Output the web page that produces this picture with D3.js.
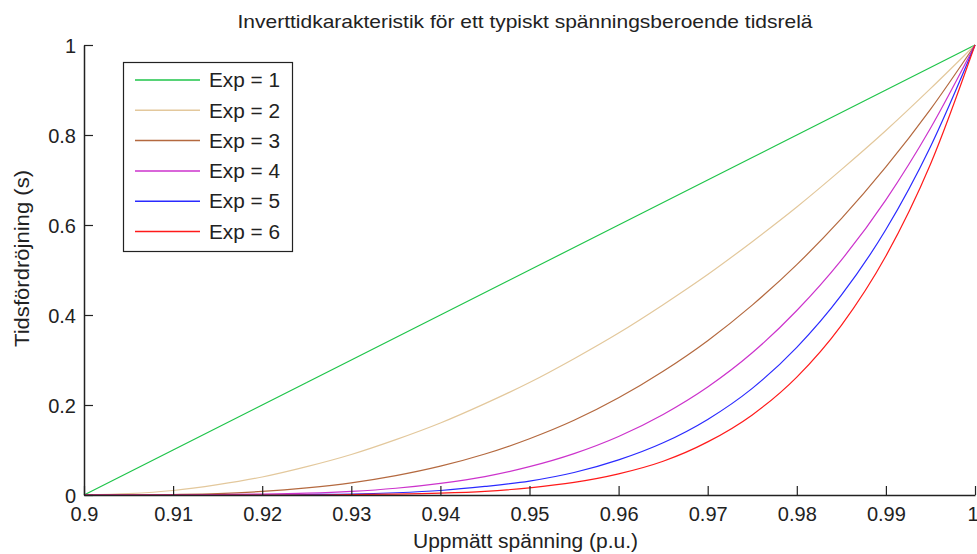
<!DOCTYPE html>
<html>
<head>
<meta charset="utf-8">
<script src="https://cdn.jsdelivr.net/npm/d3@7"></script>
<style>
  body { margin: 0; background: #fff; }
  svg text { font-family: "Liberation Sans", Arial, sans-serif; fill: #222; }
</style>
</head>
<body>
<svg id="canvas" width="977" height="554"></svg>
<script>
// x-values (p.u.), read at every 0.005
let spanning = [0.9, 0.905, 0.91, 0.915, 0.92, 0.925, 0.93, 0.935, 0.94, 0.945, 0.95,
                0.955, 0.96, 0.965, 0.97, 0.975, 0.98, 0.985, 0.99, 0.995, 1]

let exp1 = [0, 0.05, 0.1, 0.15, 0.2, 0.25, 0.3, 0.35, 0.4, 0.45, 0.5,
            0.55, 0.6, 0.65, 0.7, 0.75, 0.8, 0.85, 0.9, 0.95, 1]
let exp2 = [0, 0.003, 0.01, 0.023, 0.04, 0.063, 0.09, 0.123, 0.16, 0.203, 0.25,
            0.303, 0.36, 0.423, 0.49, 0.563, 0.64, 0.723, 0.81, 0.903, 1]
let exp3 = [0, 0, 0.001, 0.003, 0.008, 0.016, 0.027, 0.043, 0.064, 0.091, 0.125,
            0.166, 0.216, 0.275, 0.343, 0.422, 0.512, 0.614, 0.729, 0.857, 1]
let exp4 = [0, 0, 0, 0.001, 0.002, 0.004, 0.008, 0.015, 0.026, 0.041, 0.063,
            0.092, 0.13, 0.179, 0.24, 0.316, 0.41, 0.522, 0.656, 0.815, 1]
let exp5 = [0, 0, 0, 0, 0, 0.001, 0.002, 0.005, 0.01, 0.019, 0.031,
            0.05, 0.078, 0.116, 0.168, 0.237, 0.328, 0.444, 0.59, 0.774, 1]
let exp6 = [0, 0, 0, 0, 0, 0, 0.001, 0.002, 0.004, 0.008, 0.016,
            0.028, 0.047, 0.075, 0.118, 0.178, 0.262, 0.377, 0.531, 0.735, 1]

let seriesNames = ['Exp = 1', 'Exp = 2', 'Exp = 3', 'Exp = 4', 'Exp = 5', 'Exp = 6']
let seriesValues = [exp1, exp2, exp3, exp4, exp5, exp6]
let seriesColors = ['#1fc44a', '#e3c89c', '#b4693f', '#cc33cc', '#2a2aff', '#ff1a1a']

let xTicks = [0.9, 0.91, 0.92, 0.93, 0.94, 0.95, 0.96, 0.97, 0.98, 0.99, 1]
let yTicks = [0, 0.2, 0.4, 0.6, 0.8, 1]

let titleText = 'Inverttidkarakteristik för ett typiskt spänningsberoende tidsrelä'
let xLabel = 'Uppmätt spänning (p.u.)'
let yLabel = 'Tidsfördröjning (s)'

let canvas = d3.select('#canvas')

let xScale = d3.scaleLinear().domain([0.9, 1]).range([84, 975])
let yScale = d3.scaleLinear().domain([0, 1]).range([495, 45])

// curves
let line = d3.line()
    .x((d) => xScale(d[0]))
    .y((d) => yScale(d[1]))
    .curve(d3.curveMonotoneX)

seriesValues.forEach((vals, i) => {
    canvas.append('path')
        .datum(spanning.map((s, j) => [s, vals[j]]))
        .attr('d', line)
        .attr('fill', 'none')
        .attr('stroke', seriesColors[i])
        .attr('stroke-width', 1.2)
})

// axes (ticks point inwards, like matlab)
let xAxis = d3.axisBottom(xScale)
    .tickValues(xTicks)
    .tickFormat(d3.format('~g'))
    .tickSizeInner(-9)
    .tickSizeOuter(0)
    .tickPadding(12)

let yAxis = d3.axisLeft(yScale)
    .tickValues(yTicks)
    .tickFormat(d3.format('~g'))
    .tickSizeInner(-9)
    .tickSizeOuter(0)
    .tickPadding(8)

let gx = canvas.append('g')
    .attr('transform', 'translate(0,' + 495 + ')')
    .call(xAxis)
let gy = canvas.append('g')
    .attr('transform', 'translate(' + 84 + ',0)')
    .call(yAxis)

canvas.selectAll('.domain').attr('stroke', '#222').attr('stroke-width', 1.5)
canvas.selectAll('.tick line').attr('stroke', '#222').attr('stroke-width', 1.2)
canvas.selectAll('.tick text')
    .style('font-size', '20px')
    .attr('fill', '#222')
gy.selectAll('.tick text').attr('dy', '0.35em')
// last x label sits at the window edge
gx.selectAll('.tick text')
    .filter((d) => d === 1)
    .attr('text-anchor', 'end')
    .attr('x', 3)

// title + labels
canvas.append('text')
    .attr('x', 525)
    .attr('y', 28)
    .attr('text-anchor', 'middle')
    .attr('textLength', 575)
    .attr('lengthAdjust', 'spacingAndGlyphs')
    .style('font-size', '19px')
    .text(titleText)

canvas.append('text')
    .attr('x', 525.5)
    .attr('y', 548)
    .attr('text-anchor', 'middle')
    .attr('textLength', 225)
    .attr('lengthAdjust', 'spacingAndGlyphs')
    .style('font-size', '20px')
    .text(xLabel)

canvas.append('text')
    .attr('transform', 'translate(29,258.5) rotate(-90)')
    .attr('text-anchor', 'middle')
    .attr('textLength', 177)
    .attr('lengthAdjust', 'spacingAndGlyphs')
    .style('font-size', '20px')
    .text(yLabel)

// legend
let legend = canvas.append('g')
legend.append('rect')
    .attr('x', 123.5)
    .attr('y', 62.5)
    .attr('width', 169)
    .attr('height', 189)
    .attr('fill', '#fff')
    .attr('stroke', '#222')
    .attr('stroke-width', 1.2)

seriesNames.forEach((name, i) => {
    let yy = 80 + i * 30.3
    legend.append('line')
        .attr('x1', 135).attr('x2', 200)
        .attr('y1', yy).attr('y2', yy)
        .attr('stroke', seriesColors[i])
        .attr('stroke-width', 1.5)
    legend.append('text')
        .attr('x', 209)
        .attr('y', yy)
        .attr('dy', '0.36em')
        .attr('textLength', 71)
        .attr('lengthAdjust', 'spacingAndGlyphs')
        .style('font-size', '20px')
        .text(name)
})
</script>
</body>
</html>
